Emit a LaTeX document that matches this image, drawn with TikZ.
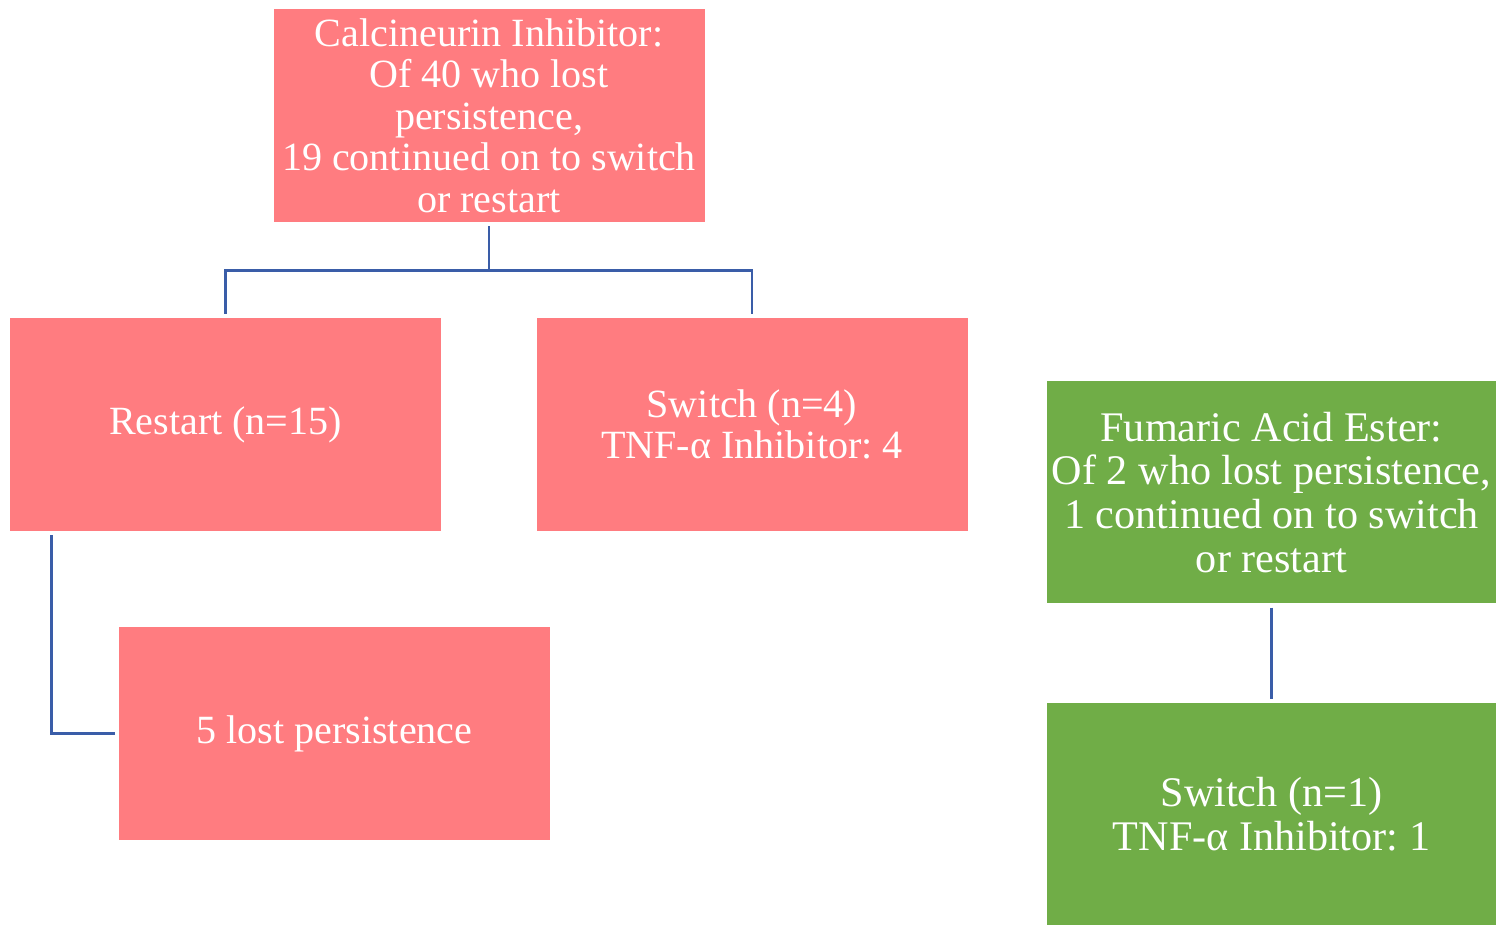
\documentclass[tikz,border=0pt]{standalone}
\usepackage{fontspec}
\setmainfont{Liberation Serif}
\frenchspacing
\usetikzlibrary{positioning,calc}
\definecolor{cnired}{HTML}{FF7C80}
\definecolor{faegreen}{HTML}{70AD47}
\definecolor{linkblue}{HTML}{3A5DA8}
\tikzset{
	treebox/.style={rectangle, fill=cnired, text=white, minimum width=4.31cm,
		minimum height=2.13cm, align=center, inner sep=1pt, outer sep=1.2pt,
		font=\fontsize{11.4}{11.8}\selectfont},
	greenbox/.style={treebox, fill=faegreen, minimum width=4.49cm, minimum height=2.22cm,
		font=\fontsize{12}{12.5}\selectfont},
	treelink/.style={draw=linkblue, line width=0.75pt}
}
\begin{document}
\begin{tikzpicture}
	\useasboundingbox (0,0) rectangle (14.96,-9.25);
	\node[treebox] (cni) at (4.89,-1.155) {Calcineurin Inhibitor:\\Of 40 who lost\\persistence,\\19 continued on to switch\\or restart};
	\node[treebox] (restart) at (2.255,-4.245) {Restart (n=15)};
	\node[treebox] (switch) at (7.52,-4.245) {Switch (n=4)\\TNF-α Inhibitor: 4};
	\node[treebox] (lost) at (3.345,-7.335) {5 lost persistence};
	\node[greenbox] (fae) at (12.715,-4.925) {Fumaric Acid Ester:\\Of 2 who lost persistence,\\1 continued on to switch\\or restart};
	\node[greenbox] (fsw) at (12.715,-8.14) {Switch (n=1)\\TNF-α Inhibitor: 1};
	\draw[treelink] (cni.south) -- ++(0,-0.44) -| (restart.north);
	\draw[treelink] (cni.south) -- ++(0,-0.44) -| (switch.north);
	\draw[treelink] ([xshift=0.46cm]restart.south west) |- (lost.west);
	\draw[treelink] (fae.south) -- (fsw.north);
\end{tikzpicture}
\end{document}
